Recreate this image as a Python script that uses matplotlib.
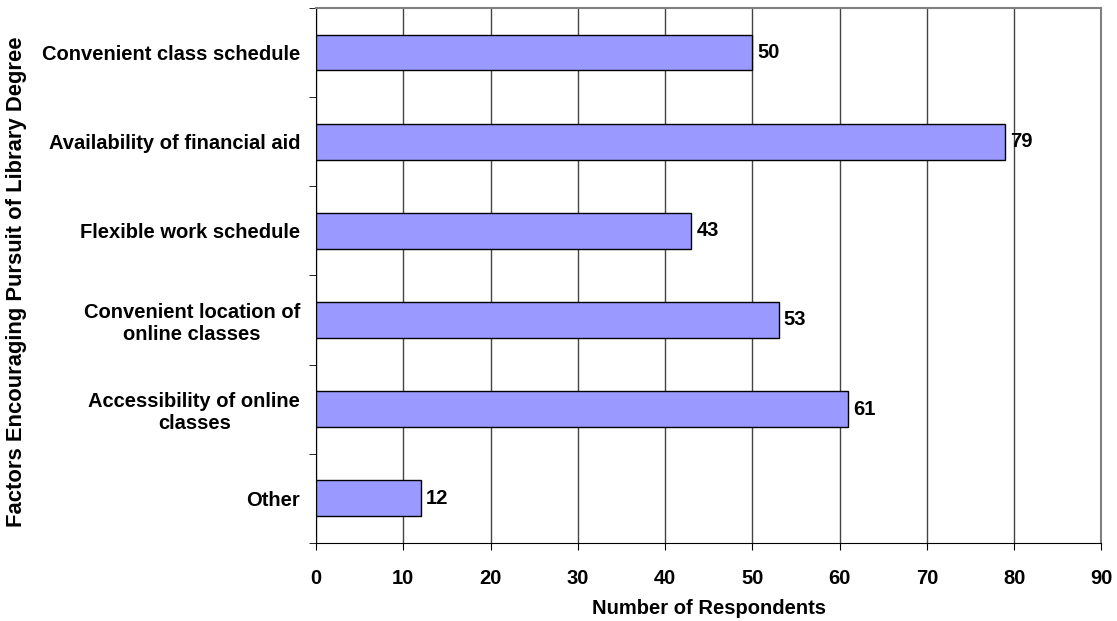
import numpy as np
import matplotlib.pyplot as plt

plt.rcParams['font.family'] = ['Liberation Sans', 'DejaVu Sans']
plt.rcParams['font.weight'] = 'bold'

# Data
factors = ['Convenient class schedule', 'Availability of financial aid',
           'Flexible work schedule', 'Convenient location of\nonline classes',
           'Accessibility of online\nclasses', 'Other']
counts = [50, 79, 43, 53, 61, 12]
xticks = [0, 10, 20, 30, 40, 50, 60, 70, 80, 90]

fig = plt.figure(figsize=(11.17, 6.21), dpi=100)
ax = fig.add_axes([0.283, 0.126, 0.703, 0.861])

y = np.arange(len(factors))
ax.barh(y, counts, height=0.4, color='#9999FF', edgecolor='black', linewidth=1, zorder=3)

for yi, v in zip(y, counts):
    ax.text(v + 0.6, yi, str(v), va='center', ha='left', fontsize=14.5, fontweight='bold')

ax.set_xlim(0, 90)
ax.set_ylim(len(factors) - 0.5, -0.5)
ax.set_xticks(xticks)
ax.set_xticklabels([str(t) for t in xticks], fontsize=14.5, fontweight='bold')
ax.tick_params(axis='x', direction='out', length=5, pad=14, colors='black')

# category labels on bars, tick marks at the boundaries
ax.set_yticks(y)
ax.set_yticklabels(factors, fontsize=14.5, fontweight='bold', multialignment='center')
ax.tick_params(axis='y', which='major', length=0, pad=11.5)
ax.set_yticks(np.arange(-0.5, len(factors)), minor=True)
ax.tick_params(axis='y', which='minor', direction='out', length=5)

ax.xaxis.grid(True, color='#444444', linewidth=1, zorder=0)
ax.set_axisbelow(True)

for s in ['top', 'right']:
    ax.spines[s].set_color('#808080')
    ax.spines[s].set_linewidth(1.5)
ax.spines['left'].set_color('black')
ax.spines['bottom'].set_color('black')

ax.set_xlabel('Number of Respondents', fontsize=14.5, fontweight='bold', labelpad=8)
fig.text(0.0145, 0.547, 'Factors Encouraging Pursuit of Library Degree', rotation=90,
         va='center', ha='center', fontsize=15.8, fontweight='bold')

fig.savefig('out.png', dpi=100)
